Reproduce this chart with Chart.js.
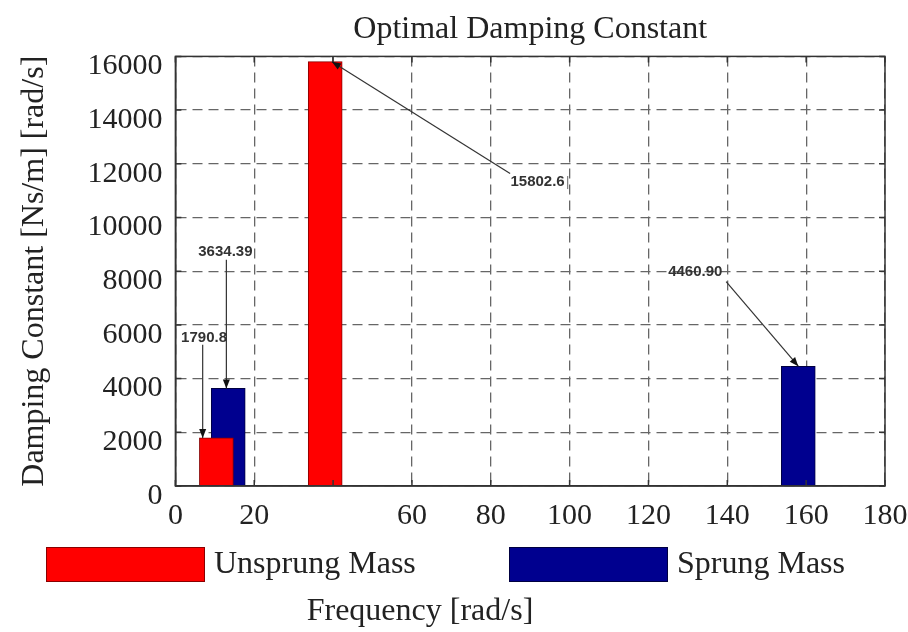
<!DOCTYPE html>
<html><head><meta charset="utf-8">
<script src="https://cdn.jsdelivr.net/npm/chart.js@4.4.0/dist/chart.umd.min.js"></script>
<style>html,body{margin:0;padding:0;background:#fff;}</style>
</head><body>
<canvas id="c" width="908" height="632"></canvas>
<script>
// ---- data ----
const chartTitle = 'Optimal Damping Constant';
const xAxisTitle = 'Frequency [rad/s]';
const yAxisTitle = 'Damping Constant [Ns/m] [rad/s]';
const seriesNames = ['Unsprung Mass', 'Sprung Mass'];
const unsprungFreq = [10.4, 38.0];
const unsprungDamping = [1790.8, 15802.6];
const sprungFreq = [13.4, 158.0];
const sprungDamping = [3634.39, 4460.90];
const xShownTicks = [0, 20, 60, 80, 100, 120, 140, 160, 180];
// callouts (data coordinates)
const calloutTexts = ['15802.6', '3634.39', '1790.8', '4460.90'];
const calloutTextX = [85.0, 5.8, 1.45, 125.0];
const calloutTextY = [11320, 8730, 5520, 7985];
const calloutFromX = [84.9, 12.93, 6.92, 139.7];
const calloutFromY = [11640, 8430, 5260, 7612];
const calloutToX = [39.7, 12.93, 6.92, 158.0];
const calloutToY = [15802.6, 3634.39, 1790.8, 4460.90];

const SERIF = '"Liberation Serif", "Times New Roman", serif';

const framePlugin = {
  id: 'frame',
  afterDatasetsDraw(chart) {
    const {ctx, chartArea: a, scales: {x, y}} = chart;
    ctx.save();
    ctx.setLineDash([]);
    ctx.strokeStyle = '#333';
    ctx.lineWidth = 1.5;
    ctx.strokeRect(a.left, a.top, a.right - a.left, a.bottom - a.top);
    const t = 6;
    ctx.beginPath();
    x.ticks.forEach(tk => {
      const px = x.getPixelForValue(tk.value);
      ctx.moveTo(px, a.bottom); ctx.lineTo(px, a.bottom - t);
      ctx.moveTo(px, a.top); ctx.lineTo(px, a.top + t);
    });
    y.ticks.forEach(tk => {
      const py = y.getPixelForValue(tk.value);
      ctx.moveTo(a.left, py); ctx.lineTo(a.left + t, py);
      ctx.moveTo(a.right, py); ctx.lineTo(a.right - t, py);
    });
    ctx.stroke();
    ctx.restore();
  }
};

function drawArrow(ctx, x1, y1, x2, y2) {
  ctx.beginPath(); ctx.moveTo(x1, y1); ctx.lineTo(x2, y2); ctx.stroke();
  const ang = Math.atan2(y2 - y1, x2 - x1), L = 9, W = 3.5;
  const bx = x2 - L * Math.cos(ang), by = y2 - L * Math.sin(ang);
  ctx.beginPath();
  ctx.moveTo(x2, y2);
  ctx.lineTo(bx + W * Math.sin(ang), by - W * Math.cos(ang));
  ctx.lineTo(bx - W * Math.sin(ang), by + W * Math.cos(ang));
  ctx.closePath(); ctx.fill();
}

const calloutPlugin = {
  id: 'callouts',
  afterDatasetsDraw(chart) {
    const {ctx, scales: {x, y}} = chart;
    ctx.save();
    ctx.setLineDash([]);
    ctx.strokeStyle = '#333';
    ctx.fillStyle = '#111';
    ctx.lineWidth = 1.2;
    calloutTexts.forEach((txt, i) => {
      drawArrow(ctx, x.getPixelForValue(calloutFromX[i]), y.getPixelForValue(calloutFromY[i]),
                     x.getPixelForValue(calloutToX[i]), y.getPixelForValue(calloutToY[i]));
    });
    ctx.font = 'bold 15px "Liberation Sans", Arial, sans-serif';
    ctx.fillStyle = '#333';
    ctx.textAlign = 'left';
    ctx.textBaseline = 'middle';
    calloutTexts.forEach((txt, i) => {
      const tx = x.getPixelForValue(calloutTextX[i]), ty = y.getPixelForValue(calloutTextY[i]);
      ctx.fillText(txt, tx, ty);
      if (i === 0) {
        const w = ctx.measureText(txt).width;
        ctx.lineWidth = 1;
        ctx.strokeStyle = '#666';
        ctx.beginPath(); ctx.moveTo(tx + w + 3, ty - 6); ctx.lineTo(tx + w + 3, ty + 7); ctx.stroke();
        ctx.strokeStyle = '#333'; ctx.lineWidth = 1.2;
      }
    });
    ctx.restore();
  }
};

const bottomLegendPlugin = {
  id: 'bottomLegend',
  afterDraw(chart) {
    const {ctx} = chart;
    const o = chart.options.plugins.bottomLegend;
    ctx.save();
    ctx.setLineDash([]);
    chart.data.datasets.forEach((ds, i) => {
      const bx = o.boxX[i];
      ctx.fillStyle = ds.backgroundColor;
      ctx.fillRect(bx, o.top, o.boxW, o.boxH);
      ctx.strokeStyle = ds.borderColor;
      ctx.lineWidth = 1;
      ctx.strokeRect(bx + 0.5, o.top + 0.5, o.boxW - 1, o.boxH - 1);
      ctx.fillStyle = '#222';
      ctx.font = '32px ' + SERIF;
      ctx.textAlign = 'left';
      ctx.textBaseline = 'middle';
      ctx.fillText(ds.label, bx + o.boxW + o.gap, o.top + o.boxH / 2);
    });
    ctx.font = '32px ' + SERIF;
    ctx.textAlign = 'center';
    ctx.textBaseline = 'middle';
    ctx.fillStyle = '#222';
    ctx.fillText(xAxisTitle, o.titleX, o.titleY);
    ctx.restore();
  }
};

new Chart(document.getElementById('c'), {
  type: 'bar',
  data: {
    datasets: [
      {
        label: seriesNames[0],
        data: unsprungFreq.map((f, i) => ({x: f, y: unsprungDamping[i]})),
        backgroundColor: '#ff0000',
        borderColor: '#8a0000',
        borderWidth: 1
      },
      {
        label: seriesNames[1],
        data: sprungFreq.map((f, i) => ({x: f, y: sprungDamping[i]})),
        backgroundColor: '#00008f',
        borderColor: '#000040',
        borderWidth: 1
      }
    ]
  },
  options: {
    responsive: false,
    animation: false,
    devicePixelRatio: 1,
    grouped: false,
    barThickness: 34,
    layout: {padding: {left: 12, right: 23, top: 0, bottom: 86}},
    scales: {
      x: {
        type: 'linear',
        offset: false,
        min: 0, max: 180,
        grid: {offset: false, color: '#666', lineWidth: 1.3, drawTicks: false},
        border: {display: true, color: '#333', width: 1.5, dash: [10, 6]},
        ticks: {
          stepSize: 20, autoSkip: false, maxRotation: 0, padding: 12,
          color: '#222', font: {family: SERIF, size: 30},
          callback: v => xShownTicks.includes(v) ? String(v) : ''
        },
        afterFit: s => { s.paddingLeft = 0; s.paddingRight = 0; }
      },
      y: {
        min: 0, max: 16000,
        grid: {color: '#666', lineWidth: 1.3, drawTicks: false},
        border: {display: true, color: '#333', width: 1.5, dash: [10, 6]},
        ticks: {
          stepSize: 2000, padding: 13, labelOffset: 10,
          color: '#222', font: {family: SERIF, size: 30},
          callback: v => String(v)
        },
        title: {
          display: true, text: yAxisTitle, color: '#222',
          font: {family: SERIF, size: 32},
          padding: {top: 3, bottom: 21}
        },
        afterFit: s => { s.paddingTop = 0; s.paddingBottom = 0; }
      }
    },
    plugins: {
      legend: {display: false},
      tooltip: {enabled: false},
      title: {
        display: true, text: chartTitle, color: '#222', fullSize: false,
        font: {family: SERIF, size: 32, weight: 'normal'},
        padding: {top: 10, bottom: 8}
      },
      bottomLegend: {boxX: [46, 509], top: 547, boxW: 159, boxH: 35, gap: 9, titleX: 420, titleY: 612}
    }
  },
  plugins: [framePlugin, calloutPlugin, bottomLegendPlugin]
});
</script>
</body></html>
